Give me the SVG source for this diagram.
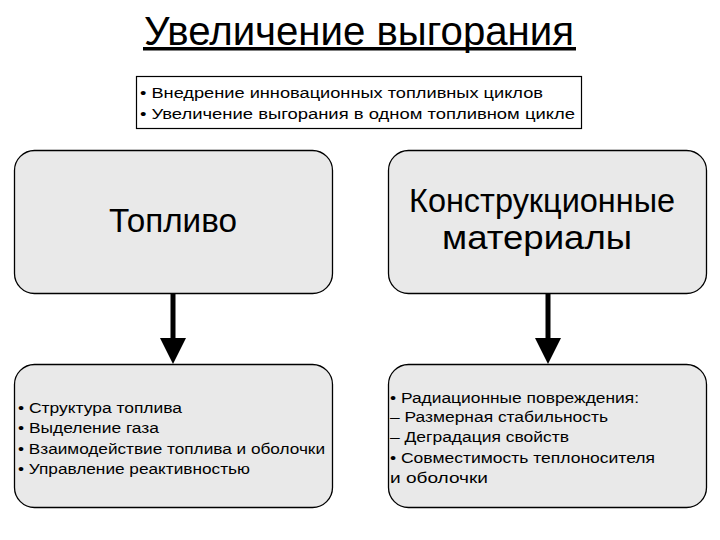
<svg xmlns="http://www.w3.org/2000/svg" width="720" height="540" viewBox="0 0 720 540">
<style>
text{font-family:"Liberation Sans",Arial,sans-serif;fill:#000}
.node{fill:#e9e9e9;stroke:#000;stroke-width:1.3}
.big{font-size:33px}
.small{font-size:15.5px}
.conn{stroke:#000;stroke-width:5;fill:none}
.head{fill:#000}
</style>
<rect width="720" height="540" fill="#fff"/>
<g id="title">
<text x="144" y="45" font-size="41" textLength="430" lengthAdjust="spacingAndGlyphs">Увеличение выгорания</text>
<rect x="143" y="47" width="433" height="3.5" fill="#000"/>
</g>
<g id="summary">
<rect x="136.5" y="76.5" width="445" height="52" fill="#fff" stroke="#000" stroke-width="1.2"/>
<text class="small" x="140" y="98" textLength="403" lengthAdjust="spacingAndGlyphs">• Внедрение инновационных топливных циклов</text>
<text class="small" x="140" y="119" textLength="435" lengthAdjust="spacingAndGlyphs">• Увеличение выгорания в одном топливном цикле</text>
</g>
<g id="fuel">
<rect class="node" x="14.5" y="150.5" width="318" height="143" rx="20"/>
<text class="big" x="109" y="232" textLength="128" lengthAdjust="spacingAndGlyphs">Топливо</text>
</g>
<g id="materials">
<rect class="node" x="388.5" y="150.5" width="318" height="143" rx="20"/>
<text class="big" x="409" y="212" textLength="266" lengthAdjust="spacingAndGlyphs">Конструкционные</text>
<text class="big" x="442" y="249" textLength="190" lengthAdjust="spacingAndGlyphs">материалы</text>
</g>
<g id="fuel-issues">
<rect class="node" x="14.5" y="364.5" width="318" height="143" rx="20"/>
<text class="small" x="18" y="413" textLength="164" lengthAdjust="spacingAndGlyphs">• Структура топлива</text>
<text class="small" x="18" y="433" textLength="141" lengthAdjust="spacingAndGlyphs">• Выделение газа</text>
<text class="small" x="18" y="454" textLength="307" lengthAdjust="spacingAndGlyphs">• Взаимодействие топлива и оболочки</text>
<text class="small" x="18" y="474" textLength="232" lengthAdjust="spacingAndGlyphs">• Управление реактивностью</text>
</g>
<g id="material-issues">
<rect class="node" x="388.5" y="364.5" width="318" height="143" rx="20"/>
<text class="small" x="390" y="403" textLength="249" lengthAdjust="spacingAndGlyphs">• Радиационные повреждения:</text>
<text class="small" x="390" y="422" textLength="218" lengthAdjust="spacingAndGlyphs">– Размерная стабильность</text>
<text class="small" x="390" y="442" textLength="179" lengthAdjust="spacingAndGlyphs">– Деградация свойств</text>
<text class="small" x="390" y="463" textLength="265" lengthAdjust="spacingAndGlyphs">• Совместимость теплоносителя</text>
<text class="small" x="390" y="483" textLength="98" lengthAdjust="spacingAndGlyphs">и оболочки</text>
</g>
<g id="connectors">
<line class="conn" x1="173" y1="294" x2="173" y2="340"/>
<polygon class="head" points="160,338 186,338 173,364"/>
<line class="conn" x1="548" y1="294" x2="548" y2="340"/>
<polygon class="head" points="535,338 561,338 548,364"/>
</g>
</svg>
